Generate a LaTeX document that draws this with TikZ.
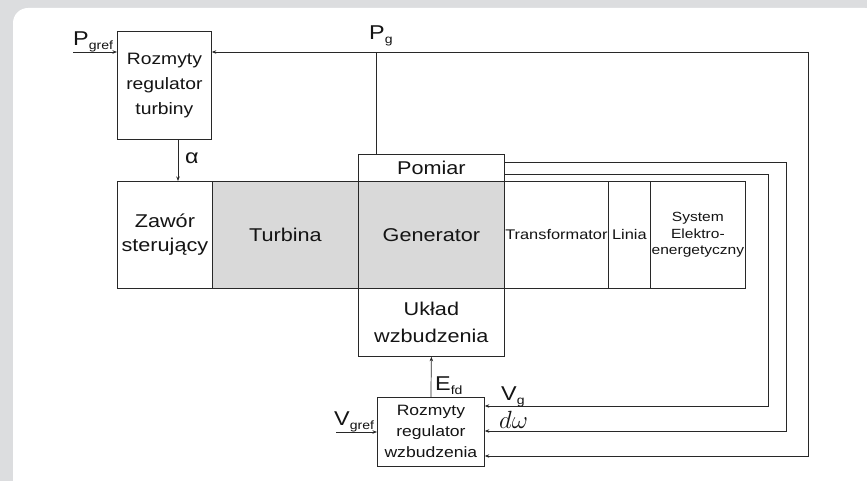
\documentclass[tikz,border=0pt]{standalone}
\usepackage{fontspec}
\setmainfont{Liberation Sans}[FakeStretch=1.17]
\usetikzlibrary{arrows.meta}
\definecolor{bggray}{RGB}{220,221,223}
\definecolor{ink}{RGB}{40,40,40}
\definecolor{txt}{RGB}{20,20,20}
\definecolor{blockfill}{RGB}{217,217,217}
\tikzset{
  blk/.style={draw=ink, line width=0.8pt, inner sep=0pt, align=center, anchor=north west, text=txt},
  conn/.style={draw=ink, line width=0.7pt},
  arr/.style={conn, -{Stealth[length=4.5pt,width=3.5pt]}},
  lbl/.style={text=txt, inner sep=0pt, font=\fontsize{20}{24}\selectfont},
}
\newcommand{\sub}[1]{\raisebox{-4pt}{\fontsize{12}{12}\selectfont #1}}
\begin{document}
\begin{tikzpicture}[x=1pt,y=-1pt]
\useasboundingbox (0,0) rectangle (867,481);
\fill[bggray] (0,0) rectangle (867,481);
\fill[white, rounded corners=15pt] (13,8) rectangle (880,500);

% blocks
\node[blk, minimum width=94pt, minimum height=108pt, font=\fontsize{16.5}{25}\selectfont] (turbreg) at (117,31) {Rozmyty\\regulator\\turbiny};
\node[blk, minimum width=95pt, minimum height=107pt, font=\fontsize{18.5}{24}\selectfont] (zawor) at (117,181) {Zawór\\sterujący};
\node[blk, fill=blockfill, minimum width=146pt, minimum height=107pt, font=\fontsize{18.5}{24}\selectfont] (turbina) at (212,181) {Turbina};
\node[blk, fill=blockfill, minimum width=146pt, minimum height=107pt, font=\fontsize{18.5}{24}\selectfont] (gen) at (358,181) {Generator};
\node[blk, minimum width=104pt, minimum height=107pt, font=\fontsize{14}{17}\selectfont] (trafo) at (504,181) {Transformator};
\node[blk, minimum width=42pt, minimum height=107pt, font=\fontsize{14}{17}\selectfont] (linia) at (608,181) {Linia};
\node[blk, minimum width=95pt, minimum height=107pt, font=\fontsize{13.3}{16.7}\selectfont] (system) at (650,181) {System\\Elektro-\\energetyczny};
\node[blk, minimum width=146pt, minimum height=27pt, font=\fontsize{18.5}{24}\selectfont] (pomiar) at (358,154) {Pomiar};
\node[blk, minimum width=146pt, minimum height=68pt, font=\fontsize{18.5}{26.7}\selectfont] (uklad) at (358,288) {Układ\\wzbudzenia};
\node[blk, minimum width=107pt, minimum height=69pt, font=\fontsize{15}{21}\selectfont] (excreg) at (377,397) {Rozmyty\\regulator\\wzbudzenia};

% helper coordinates
\coordinate (pgin) at (73,52);
\coordinate (ax) at (178,160);
\coordinate (pgx) at (376,52);
\coordinate (r3top) at (808,52);
\coordinate (r3bot) at (808,456);
\coordinate (r2top) at (786,162);
\coordinate (r2bot) at (786,431);
\coordinate (r1top) at (768,174);
\coordinate (r1bot) at (768,406);
\coordinate (vgin) at (336,432);

% connectors
\draw[arr] (pgin) -- (pgin -| turbreg.west);
\draw[arr] (ax |- turbreg.south) -- (ax |- zawor.north);
\draw[conn] (pgx |- pomiar.north) -- (pgx);
\draw[arr] (r3top) -- (r3top -| turbreg.east);
\draw[arr] (r3top) -- (r3bot) -- (r3bot -| excreg.east);
\draw[arr] (r2top -| pomiar.east) -- (r2top) -- (r2bot) -- (r2bot -| excreg.east);
\draw[arr] (r1top -| pomiar.east) -- (r1top) -- (r1bot) -- (r1bot -| excreg.east);
\draw[arr] (excreg.north) -- (uklad.south);
\draw[arr] (vgin) -- (vgin -| excreg.west);

% labels
\node[lbl, anchor=base west] (lpg) at (73,46) {P\sub{gref}};
\node[lbl, anchor=base west] (lpgm) at (369,40) {P\sub{g}};
\node[lbl, anchor=base west] (lal) at (185,164) {α};
\node[lbl, anchor=base west] (lefd) at (435,390) {E\sub{fd}};
\node[lbl, anchor=base west] (lvg) at (501,400) {V\sub{g}};
\node[lbl, anchor=base west, font=\fontsize{23}{26}\selectfont] (ldw) at (499,428) {$d\omega$};
\node[lbl, anchor=base west] (lvgr) at (334,425) {V\sub{gref}};
\end{tikzpicture}
\end{document}
